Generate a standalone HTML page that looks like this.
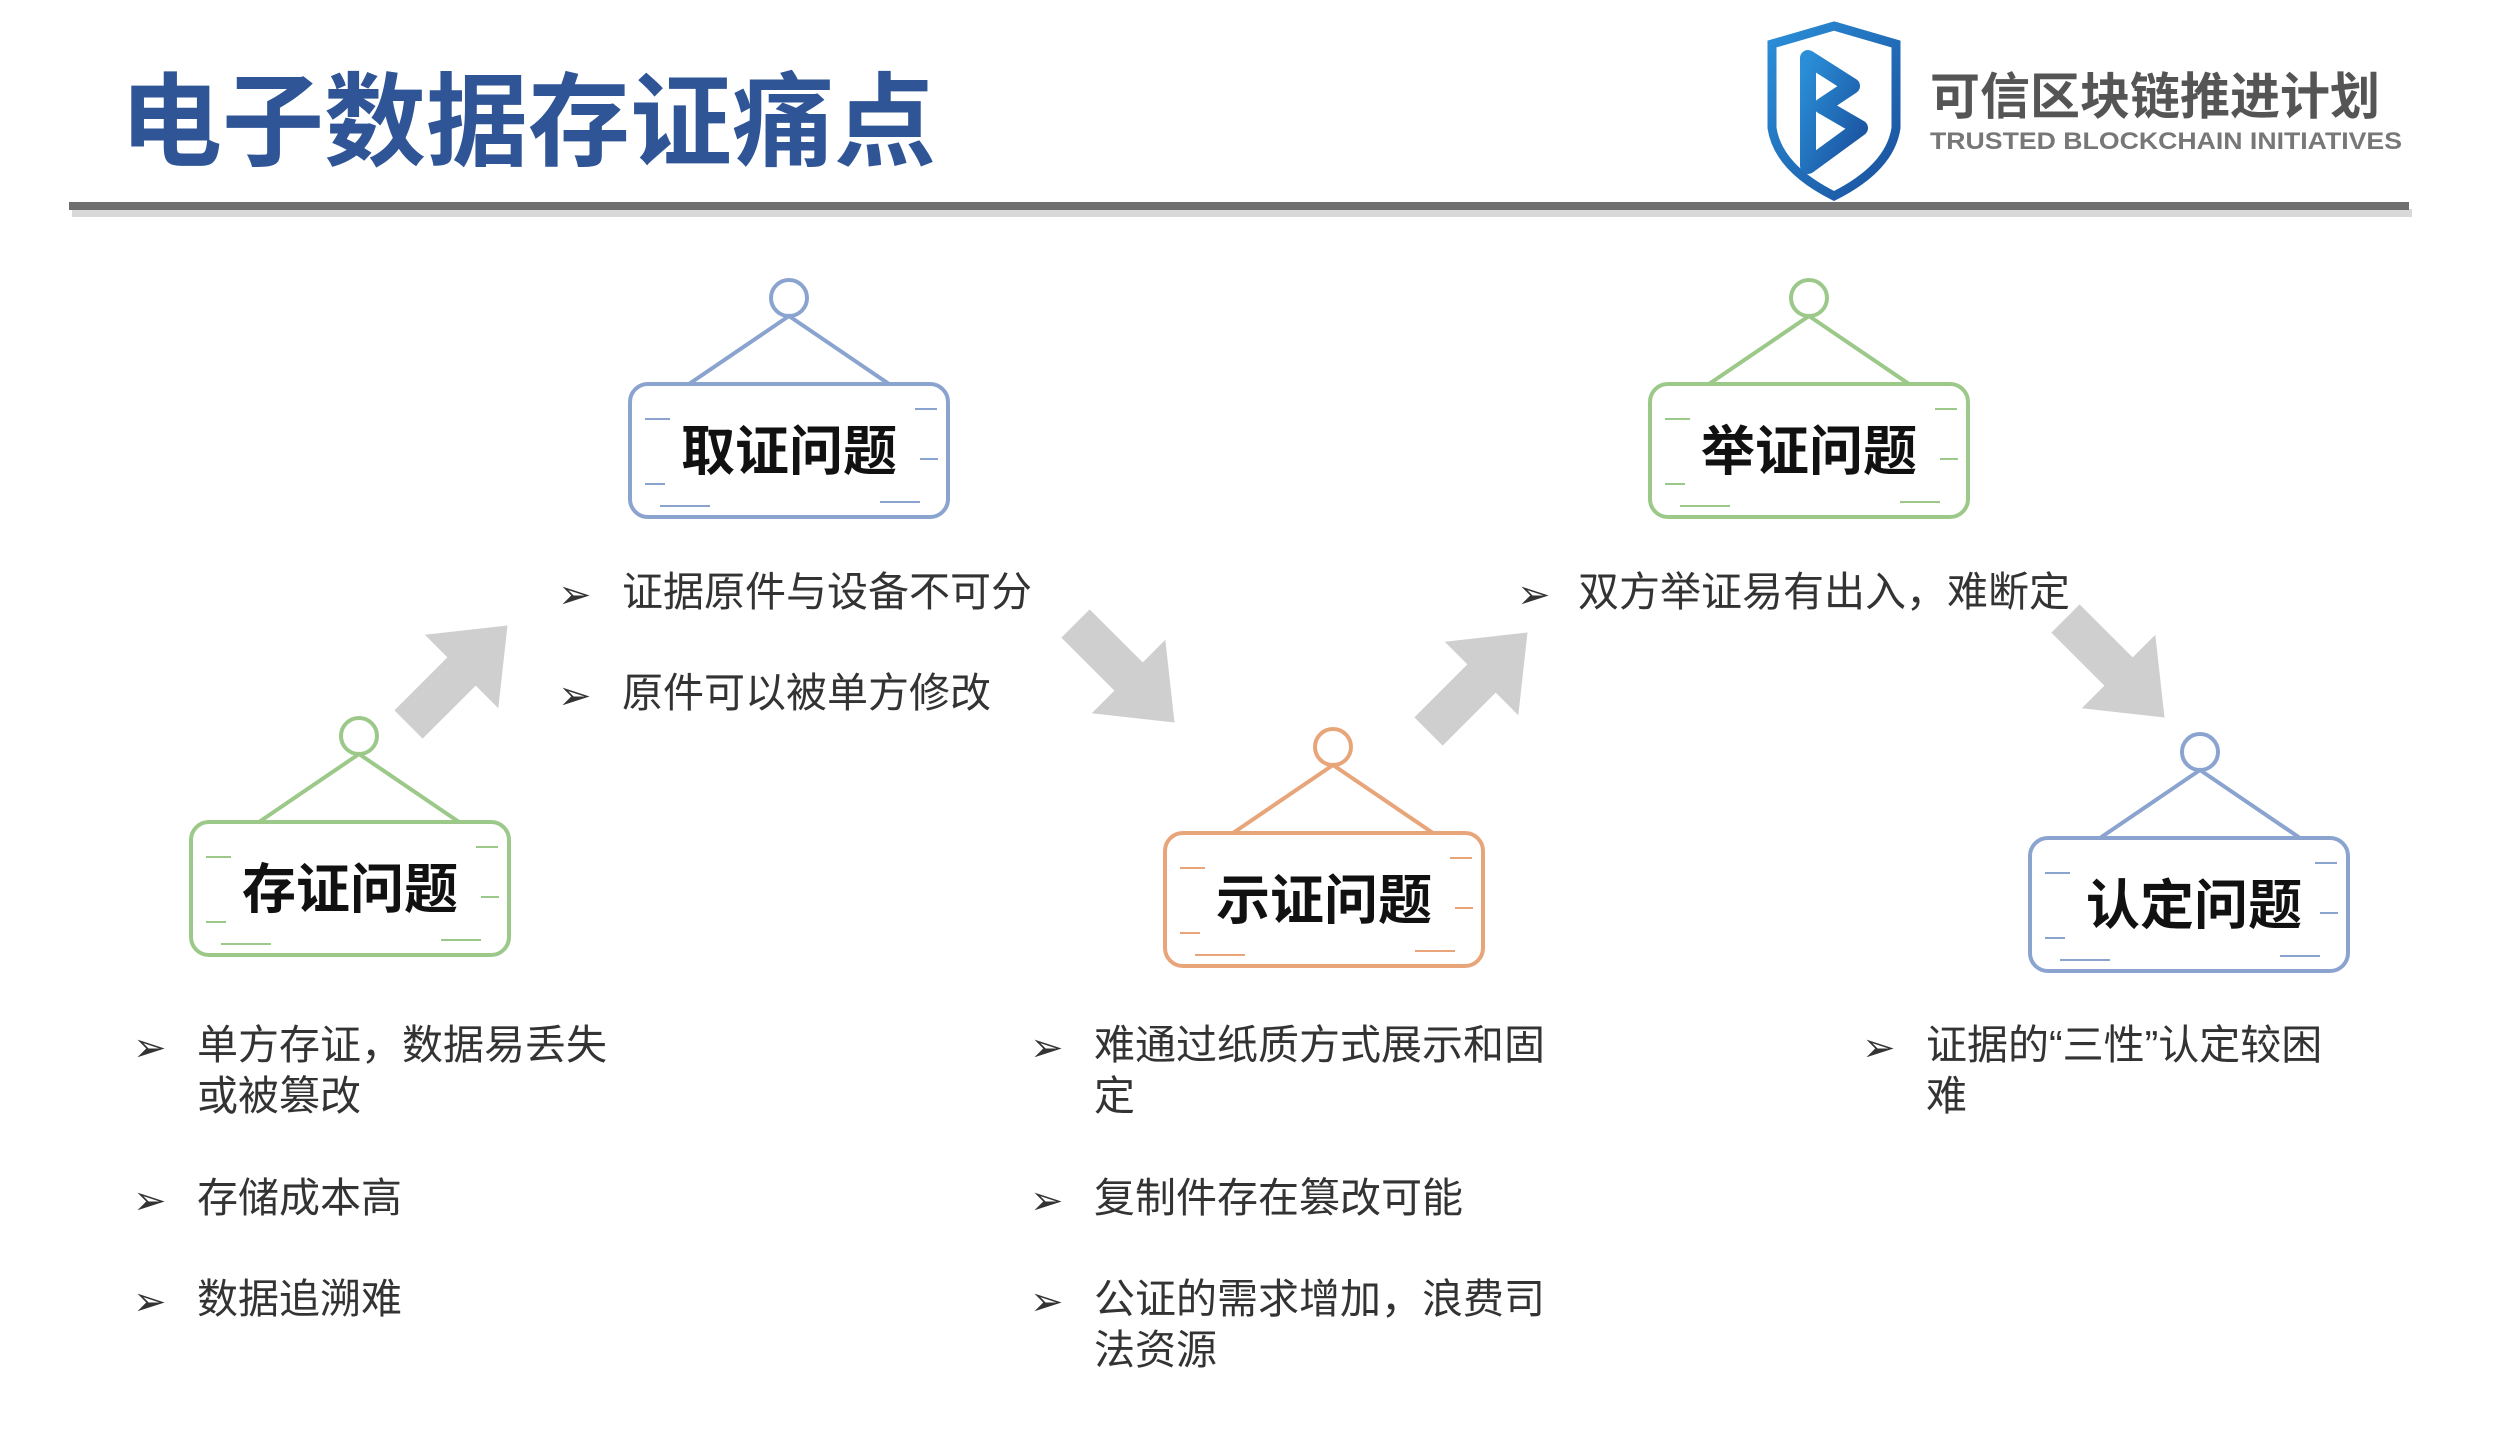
<!DOCTYPE html>
<html><head><meta charset="utf-8"><style>
html,body{margin:0;padding:0;background:#fff;}
svg{display:block}
text{font-family:"Liberation Sans","Noto Sans CJK SC",sans-serif;}
</style></head><body>
<svg width="2512" height="1452" viewBox="0 0 2512 1452" xmlns="http://www.w3.org/2000/svg">
<defs>
<linearGradient id="sg" x1="0" y1="0" x2="1" y2="1"><stop offset="0" stop-color="#2a8fd8"/><stop offset="1" stop-color="#1a4f9c"/></linearGradient>
<g id="arr"><polygon points="-70,-20 5,-20 5,-52 70,0 5,52 5,20 -70,20" fill="#cfcfcf"/></g>
</defs>
<text x="120" y="158" font-size="102" font-weight="bold" fill="#2f5597">电子数据存证痛点</text>
<rect x="72" y="209" width="2340" height="8" fill="#d9d9d9"/>
<rect x="69" y="202" width="2340" height="8" fill="#6f6f6f"/>
<path d="M1834 26 L1896 44 L1896 128 Q1890 168 1834 196 Q1778 168 1772 128 L1772 44 Z" fill="none" stroke="url(#sg)" stroke-width="9"/>
<path d="M1808 58 L1852 86 L1822 106 L1860 128 L1808 166 Z" fill="none" stroke="url(#sg)" stroke-width="16" stroke-linejoin="round"/>
<text x="1930" y="114" font-size="50" font-weight="bold" fill="#555">可信区块链推进计划</text>
<text x="1930" y="149" font-size="24" font-weight="bold" fill="#777" textLength="472" lengthAdjust="spacingAndGlyphs">TRUSTED BLOCKCHAIN INITIATIVES</text>

<g transform="translate(630,384)" stroke="#8aa3cf" fill="none" stroke-width="4">
<circle cx="159" cy="-86" r="18"/><polyline points="59,0 159,-68 259,0"/>
<rect x="0" y="0" width="318" height="133" rx="18"/>
<path d="M15 35h25M15 100h20M285 25h22M290 75h18M250 118h40M30 122h50" stroke-width="2"/>
</g>
<text x="789" y="470" font-size="54" font-weight="bold" text-anchor="middle" fill="#111">取证问题</text>

<g transform="translate(1650,384)" stroke="#9cc98a" fill="none" stroke-width="4">
<circle cx="159" cy="-86" r="18"/><polyline points="59,0 159,-68 259,0"/>
<rect x="0" y="0" width="318" height="133" rx="18"/>
<path d="M15 35h25M15 100h20M285 25h22M290 75h18M250 118h40M30 122h50" stroke-width="2"/>
</g>
<text x="1809" y="470" font-size="54" font-weight="bold" text-anchor="middle" fill="#111">举证问题</text>

<g transform="translate(191,822)" stroke="#9cc98a" fill="none" stroke-width="4">
<circle cx="168" cy="-86" r="18"/><polyline points="68,0 168,-68 268,0"/>
<rect x="0" y="0" width="318" height="133" rx="18"/>
<path d="M15 35h25M15 100h20M285 25h22M290 75h18M250 118h40M30 122h50" stroke-width="2"/>
</g>
<text x="350" y="908" font-size="54" font-weight="bold" text-anchor="middle" fill="#111">存证问题</text>

<g transform="translate(1165,833)" stroke="#e9a57a" fill="none" stroke-width="4">
<circle cx="168" cy="-86" r="18"/><polyline points="68,0 168,-68 268,0"/>
<rect x="0" y="0" width="318" height="133" rx="18"/>
<path d="M15 35h25M15 100h20M285 25h22M290 75h18M250 118h40M30 122h50" stroke-width="2"/>
</g>
<text x="1324" y="919" font-size="54" font-weight="bold" text-anchor="middle" fill="#111">示证问题</text>

<g transform="translate(2030,838)" stroke="#8aa3cf" fill="none" stroke-width="4">
<circle cx="170" cy="-86" r="18"/><polyline points="70,0 170,-68 270,0"/>
<rect x="0" y="0" width="318" height="133" rx="18"/>
<path d="M15 35h25M15 100h20M285 25h22M290 75h18M250 118h40M30 122h50" stroke-width="2"/>
</g>
<text x="2194" y="924" font-size="54" font-weight="bold" text-anchor="middle" fill="#111">认定问题</text>

<use href="#arr" transform="translate(458,675) rotate(-45)"/>
<use href="#arr" transform="translate(1125,673) rotate(45)"/>
<use href="#arr" transform="translate(1478,682) rotate(-45)"/>
<use href="#arr" transform="translate(2115,668) rotate(45)"/>

<g font-size="41" fill="#333">
<text x="558" y="608" font-size="40">➢</text><text x="622" y="606">证据原件与设备不可分</text>
<text x="558" y="709" font-size="40">➢</text><text x="622" y="707">原件可以被单方修改</text>
<text x="1517" y="608" font-size="40">➢</text><text x="1578" y="606">双方举证易有出入，难断定</text>

<text x="133" y="1061" font-size="40">➢</text><text x="197" y="1059">单方存证，数据易丢失</text>
<text x="197" y="1110">或被篡改</text>
<text x="133" y="1214" font-size="40">➢</text><text x="197" y="1212">存储成本高</text>
<text x="133" y="1315" font-size="40">➢</text><text x="197" y="1313">数据追溯难</text>

<text x="1030" y="1061" font-size="40">➢</text><text x="1094" y="1059">难通过纸质方式展示和固</text>
<text x="1094" y="1110">定</text>
<text x="1030" y="1214" font-size="40">➢</text><text x="1094" y="1212">复制件存在篡改可能</text>
<text x="1030" y="1315" font-size="40">➢</text><text x="1094" y="1313">公证的需求增加，浪费司</text>
<text x="1094" y="1364">法资源</text>

<text x="1862" y="1061" font-size="40">➢</text><text x="1926" y="1059">证据的“三性”认定较困</text>
<text x="1926" y="1110">难</text>
</g>
</svg>
</body></html>
